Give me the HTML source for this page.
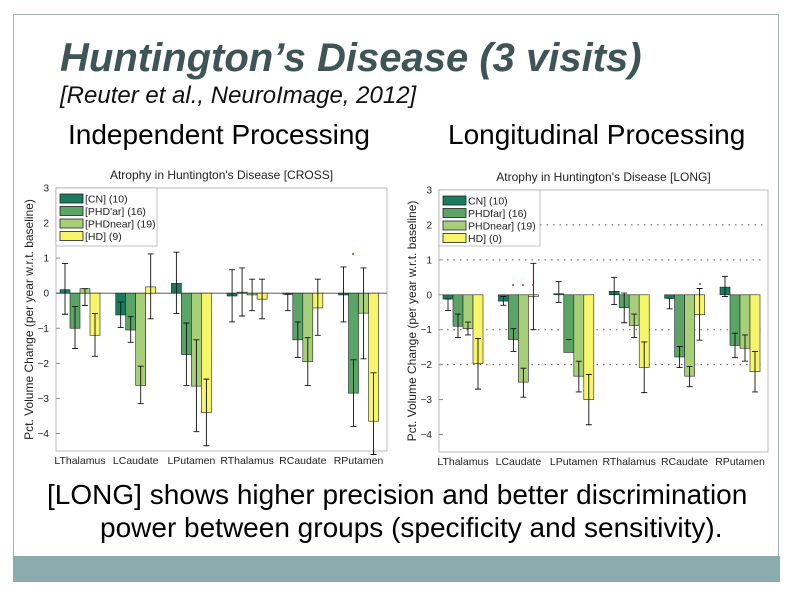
<!DOCTYPE html>
<html><head><meta charset="utf-8">
<style>
body{margin:0;width:793px;height:596px;background:#fff;position:relative;overflow:hidden;font-family:"Liberation Sans",sans-serif}
.t{position:absolute;white-space:nowrap}
</style></head>
<body>
<div style="position:absolute;left:13px;top:14px;width:766px;height:568px;border:1px solid #a9b4b4;border-bottom:none;box-sizing:border-box"></div>
<div style="position:absolute;left:13px;top:556px;width:767px;height:26px;background:#8aacac"></div>
<div class="t" style="left:60px;top:36px;font-size:40px;font-weight:bold;font-style:italic;color:#3e5457">Huntington’s Disease (3 visits)</div>
<div class="t" style="left:60px;top:82px;font-size:24px;font-style:italic;color:#111">[Reuter et al., NeuroImage, 2012]</div>
<div class="t" style="left:68px;top:119px;font-size:28px;color:#000">Independent Processing</div>
<div class="t" style="left:448px;top:119px;font-size:28px;color:#000">Longitudinal Processing</div>
<div class="t" style="left:47px;top:478px;font-size:28px;line-height:33px;color:#000">[LONG] shows higher precision and better discrimination<br><span style="padding-left:53px">power between groups (specificity and sensitivity).</span></div>
<svg id="svg" width="793" height="596" style="position:absolute;left:0;top:0" font-family="Liberation Sans, sans-serif"></svg>
<script>
const categories=["LThalamus","LCaudate","LPutamen","RThalamus","RCaudate","RPutamen"];
const groups=["[CN] (10)","[PHD'ar] (16)","[PHDnear] (19)","[HD] (9)"];
const groupsLong=["CN] (10)","PHDfar] (16)","PHDnear] (19)","HD] (0)"];
const yTicks=[3,2,1,0,-1,-2,-3,-4];
const crossCN=[0.1,-0.62,0.28,-0.08,-0.03,-0.05];
const crossFar=[-1.0,-1.05,-1.75,0.03,-1.33,-2.85];
const crossNear=[0.13,-2.63,-2.65,-0.05,-1.95,-0.57];
const crossHD=[-1.2,0.18,-3.4,-0.17,-0.42,-3.65];
const crossCNLo=[-0.6,-0.98,-0.58,-0.82,-0.5,-0.82];
const crossCNHi=[0.85,-0.25,1.17,0.67,-0.03,0.75];
const crossFarLo=[-1.58,-1.4,-2.63,-0.65,-1.83,-3.8];
const crossFarHi=[-0.38,-0.67,-0.85,0.72,-0.82,-1.9];
const crossNearLo=[-0.35,-3.15,-3.95,-0.5,-2.63,-1.87];
const crossNearHi=[0.13,-2.08,-1.33,0.4,-1.27,0.72];
const crossHDLo=[-1.8,-0.73,-4.35,-0.73,-1.2,-4.6];
const crossHDHi=[-0.58,1.12,-2.45,0.4,0.4,-2.27];
const longCN=[-0.12,-0.18,0.03,0.1,-0.1,0.22];
const longFar=[-0.9,-1.28,-1.65,-0.37,-1.78,-1.45];
const longNear=[-0.97,-2.5,-2.33,-0.88,-2.33,-1.53];
const longHD=[-1.97,-0.05,-3.0,-2.08,-0.57,-2.2];
const longCNLo=[-0.45,-0.3,-0.22,-0.28,-0.4,-0.05];
const longCNHi=[-0.12,-0.05,0.38,0.5,-0.1,0.53];
const longFarLo=[-1.22,-1.62,-1.28,-0.8,-2.08,-1.8];
const longFarHi=[-0.55,-0.97,-1.28,0.05,-1.48,-1.1];
const longNearLo=[-1.15,-2.93,-2.78,-1.22,-2.63,-1.9];
const longNearHi=[-0.78,-2.1,-1.9,-0.55,-2.05,-1.15];
const longHDLo=[-2.7,-1.0,-3.72,-2.8,-1.3,-2.78];
const longHDHi=[-1.25,0.9,-2.28,-1.35,0.18,-1.62];
const colors=["#1a7a5e","#5aa565","#a7cf7a","#f7f56a"];
const NS="http://www.w3.org/2000/svg";
const svg=document.getElementById('svg');
function mk(tag,at,parent){const e=document.createElementNS(NS,tag);for(const k in at)e.setAttribute(k,at[k]);(parent||svg).appendChild(e);return e;}
function chart(o){
  const g=mk('g',{});
  
  
  const y=v=>o.y0+(3-v)*(o.y1-o.y0)/7.5;
  const x=i=>o.cx0+i*o.step;
  const frame=mk('rect',{x:o.left,y:o.y0,width:o.right-o.left,height:o.y1-o.y0,fill:'none',stroke:'#aaa','stroke-width':0.8},g);
  
  
  const tt=mk('text',{x:(o.left+o.right)/2,y:o.y0-9,'font-size':12,'text-anchor':'middle',fill:'#222'},g);tt.textContent=o.title;
  
  
  const yt=mk('text',{transform:`translate(${o.left-23},${(o.y0+o.y1)/2}) rotate(-90)`,'font-size':12,'text-anchor':'middle',fill:'#222'},g);yt.textContent="Pct. Volume Change (per year w.r.t. baseline)";
  
  
  yTicks.forEach(t=>{
    const l=mk('text',{x:o.left-7,y:y(t)+3.5,'font-size':10,'text-anchor':'end',fill:'#222'},g);l.textContent=t<0?'−'+(-t):String(t);
    
    
    mk('line',{x1:o.left,x2:o.left+4,y1:y(t),y2:y(t),stroke:'#888'},g);
    if(o.grid&&t!==0&&t!==3&&t>-3){mk('line',{x1:t===2?o.legendR:o.left+8,x2:o.right-4,y1:y(t),y2:y(t),stroke:'#555','stroke-dasharray':'1.5,5'},g);}
  });
  if(o.zeroLine)mk('line',{x1:o.left,x2:o.right,y1:y(0),y2:y(0),stroke:'#444','stroke-width':0.8},g);
  categories.forEach((c,i)=>{
    const l=mk('text',{x:x(i),y:o.y1+13,'font-size':10.5,'text-anchor':'middle',fill:'#222'},g);l.textContent=c;
    
    
    o.series.forEach((s,k)=>{
      const bx=x(i)+(k-1.5)*o.bw-o.bw/2;
      const v=s[i];
      const r=mk('rect',{x:bx,y:Math.min(y(v),y(0)),width:o.bw,height:Math.abs(y(v)-y(0)),fill:colors[k],stroke:'#222','stroke-width':0.6},g);
      
      
      const cx=bx+o.bw/2,lo=o.lo[k][i],hi=o.hi[k][i];
      const e=mk('path',{d:`M${cx},${y(lo)}V${y(hi)}M${cx-3},${y(lo)}h6M${cx-3},${y(hi)}h6`,stroke:'#111','stroke-width':0.9,fill:'none'},g);
      
      
    });
  });
  const lg=mk('g',{},g);
  
  
  mk('rect',{x:o.left,y:o.y0,width:o.legendR-o.left,height:o.legH,fill:'#fff',stroke:'#999','stroke-width':0.6},lg);
  o.labels.forEach((t,k)=>{
    mk('rect',{x:o.left+4,y:o.y0+6+k*12.5,width:23,height:9,fill:colors[k],stroke:'#222','stroke-width':0.8},lg);
    const tx=mk('text',{x:o.left+29,y:o.y0+14.5+k*12.5,'font-size':10.5,fill:'#222'},lg);tx.textContent=t;
    
    
  });
  o.dots.forEach(d=>mk('circle',{cx:d[0],cy:d[1],r:1,fill:'#c33'},g));
}
chart({name:'cross-chart',title:"Atrophy in Huntington's Disease [CROSS]",left:56,right:387,y0:188,y1:451,cx0:80,step:55.7,bw:10,grid:false,zeroLine:true,legendR:157,legH:58,labels:groups,
 series:[crossCN,crossFar,crossNear,crossHD],lo:[crossCNLo,crossFarLo,crossNearLo,crossHDLo],hi:[crossCNHi,crossFarHi,crossNearHi,crossHDHi],dots:[[353,254]]});
chart({name:'long-chart',title:"Atrophy in Huntington's Disease [LONG]",left:439,right:768,y0:190,y1:452,cx0:463,step:55.4,bw:10,grid:true,zeroLine:false,legendR:540,legH:56,labels:groupsLong,
 series:[longCN,longFar,longNear,longHD],lo:[longCNLo,longFarLo,longNearLo,longHDLo],hi:[longCNHi,longFarHi,longNearHi,longHDHi],dots:[[513,285],[523,285],[533,285],[700,284]]});
</script>
</body></html>
